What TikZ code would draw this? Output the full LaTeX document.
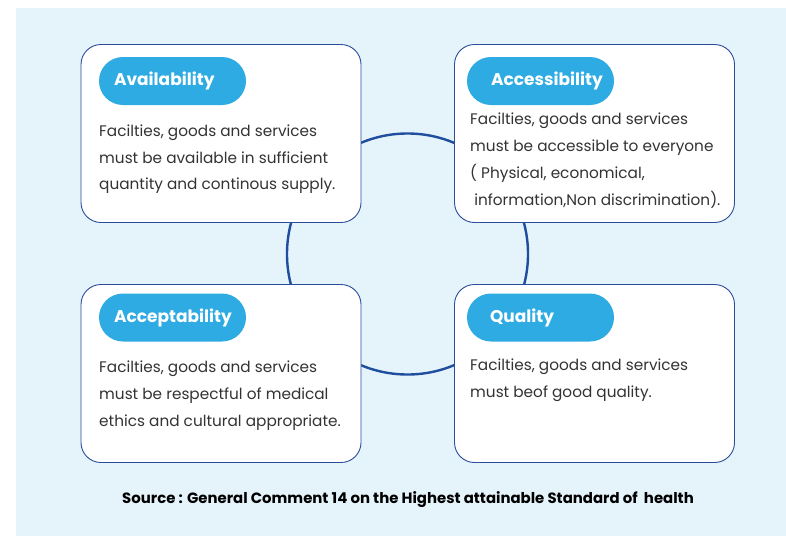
\documentclass[tikz,border=0pt]{standalone}
\usepackage{fontspec}
\setmainfont{Poppins}
\usetikzlibrary{positioning}
\definecolor{bgblue}{HTML}{E5F3FB}
\definecolor{tagblue}{HTML}{2EABE2}
\definecolor{edgeblue}{HTML}{2B4C9B}
\definecolor{ringblue}{HTML}{1F4E9F}
\definecolor{bodygray}{HTML}{333333}
\tikzset{
  card/.style={draw=edgeblue, line width=0.9pt, fill=white, rounded corners=20pt,
    minimum width=280pt, minimum height=178pt, inner sep=0pt},
  tag/.style={fill=tagblue, rounded corners=24pt, minimum width=147pt,
    minimum height=48pt, inner sep=0pt},
  tagtext/.style={text=white, font=\fontsize{17}{19}\selectfont\bfseries,
    inner sep=0pt, anchor=west},
  body/.style={text=bodygray, font=\fontsize{15.3}{26.8}\selectfont, align=left,
    anchor=north west, inner sep=0pt},
}
\begin{document}
\begin{tikzpicture}[x=1pt,y=-1pt]
\useasboundingbox (0,0) rectangle (786,536);
\fill[bgblue] (16,8) rectangle (786,536);
% ring behind the cards
\node[draw=ringblue, line width=2.4pt, circle, minimum size=241pt, inner sep=0pt] (ring) at (407.5,254) {};
% cards
\node[card] (avail) at (221,133.5) {};
\node[card] (access) at (594.5,133.5) {};
\node[card] (accept) at (221,373.5) {};
\node[card] (quality) at (594.5,373.5) {};
% tags
\node[tag] (availtag) at (172.5,81) {};
\node[tag] (accesstag) at (540.5,81) {};
\node[tag] (accepttag) at (172.5,317.5) {};
\node[tag] (qualitytag) at (540.5,317.5) {};
\node[tagtext, right=15pt of availtag.west] (availname) {Availability};
\node[tagtext, right=24pt of accesstag.west] (accessname) {Accessibility};
\node[tagtext, right=15pt of accepttag.west] (acceptname) {Acceptability};
\node[tagtext, right=23pt of qualitytag.west] (qualityname) {Quality};
% texts
\node[body] (availtext) at (99,124.5) {Facilties, goods and services\\must be available in sufficient\\quantity and continous supply.};
\node[body] (accesstext) at (470,113) {Facilties, goods and services\\must be accessible to everyone\\( Physical, economical,\\ \ information,Non discrimination).};
\node[body] (accepttext) at (99,361) {Facilties, goods and services\\must be respectful of medical\\ethics and cultural appropriate.};
\node[body] (qualitytext) at (470,359) {Facilties, goods and services\\must beof good quality.};
\node[font=\fontsize{14.9}{16}\selectfont\bfseries, inner sep=0pt] (source) at (408,500) {Source : General Comment 14 on the Highest attainable Standard of \ health};
\end{tikzpicture}
\end{document}
